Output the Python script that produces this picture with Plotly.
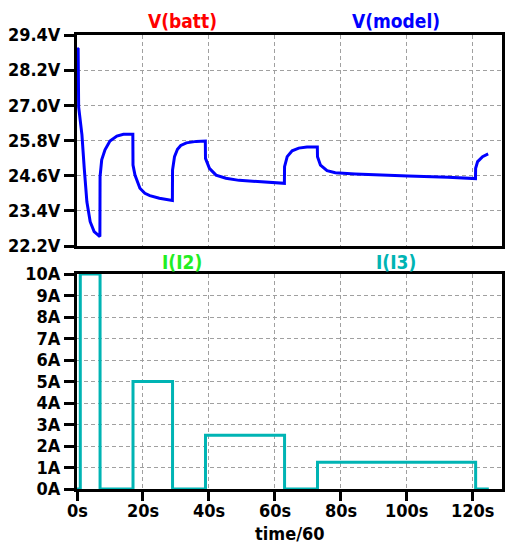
import plotly.graph_objects as go

# Voltage V(model) (overlays V(batt))
v_t = [0.0, 0.35, 0.5, 1.5, 2.2, 3.0, 4.0, 5.2, 6.95,
       7.0, 7.5, 8.5, 10.0, 12.1, 14.1, 16.95,
       17.0, 17.6, 19.1, 20.6, 22.1, 25.0, 28.95,
       29.0, 29.6, 30.5, 31.5, 33.2, 36.2, 38.95,
       39.0, 40.2, 42.2, 45.2, 49.2, 55.3, 59.8, 62.95,
       63.0, 63.8, 65.3, 67.3, 69.8, 72.95,
       73.0, 73.9, 75.9, 78.4, 84.4, 92.5, 100.5, 112.6, 120.95,
       121.0, 121.6, 123.1, 124.8]
v_model = [28.95, 28.92, 26.95, 25.99, 24.85, 23.71, 23.03, 22.69, 22.52,
           24.57, 25.14, 25.48, 25.78, 25.95, 26.01, 26.01,
           24.96, 24.62, 24.17, 24.0, 23.92, 23.83, 23.75,
           24.79, 25.25, 25.5, 25.63, 25.72, 25.77, 25.78,
           25.19, 24.85, 24.62, 24.51, 24.44, 24.4, 24.36, 24.34,
           24.91, 25.25, 25.45, 25.54, 25.58, 25.58,
           25.25, 24.96, 24.77, 24.7, 24.66, 24.62, 24.59, 24.55, 24.5,
           24.85, 25.08, 25.25, 25.34]

# Current I(I3) (overlays I(I2))
i_t = [0, 1, 1, 7, 7, 17, 17, 29, 29, 39, 39, 63, 63, 73, 73, 121, 121, 125]
i_val = [0, 0, 10, 10, 0, 0, 5, 5, 0, 0, 2.5, 2.5, 0, 0, 1.25, 1.25, 0, 0]

v_ticks = [22.2, 23.4, 24.6, 25.8, 27.0, 28.2, 29.4]
v_ticklabels = ["22.2V", "23.4V", "24.6V", "25.8V", "27.0V", "28.2V", "29.4V"]
i_ticks = list(range(0, 11))
i_ticklabels = [f"{k}A" for k in i_ticks]
t_ticks = [0, 20, 40, 60, 80, 100, 120]
t_ticklabels = [f"{k}s" for k in t_ticks]

FONT = "DejaVu Sans Condensed, DejaVu Sans, sans-serif"
BLUE = "#0000ff"
TEAL = "#00b4b4"
GRID = "#a0a0a0"

fig = go.Figure()
fig.add_trace(go.Scatter(x=v_t, y=v_model, mode="lines",
                         line=dict(color=BLUE, width=3), xaxis="x", yaxis="y",
                         showlegend=False, hoverinfo="skip"))
fig.add_trace(go.Scatter(x=i_t, y=i_val, mode="lines",
                         line=dict(color=TEAL, width=3), xaxis="x2", yaxis="y2",
                         showlegend=False, hoverinfo="skip"))

H = 543
top_px, bot_px = 35, 489
ph = bot_px - top_px
def py(y):
    return (bot_px - y) / ph

tickfont = dict(family=FONT, size=18, color="black", weight="bold")
xcommon = dict(range=[0, 129], tickvals=t_ticks, showgrid=True, gridcolor=GRID,
               griddash="4px,3px", gridwidth=1, showline=True, linecolor="black",
               linewidth=3, mirror=True, zeroline=False)

fig.update_layout(
    width=507, height=H,
    margin=dict(l=77, r=2, t=top_px, b=H - bot_px),
    plot_bgcolor="white", paper_bgcolor="white",
    xaxis=dict(domain=[0, 1], anchor="y", showticklabels=False, ticks="", **xcommon),
    xaxis2=dict(domain=[0, 1], anchor="y2", showticklabels=False, ticks="outside",
                ticklen=9, tickwidth=3, tickcolor="black", **xcommon),
    yaxis=dict(domain=[py(246), 1], range=[22.2, 29.4], tickvals=v_ticks,
               ticktext=v_ticklabels, ticks="outside", ticklen=10, tickwidth=3,
               tickcolor="black", tickfont=tickfont, showgrid=True, gridcolor=GRID,
               griddash="4px,3px", gridwidth=1, showline=True, linecolor="black",
               linewidth=3, mirror=True, zeroline=False),
    yaxis2=dict(domain=[0, py(274)], range=[0, 10], tickvals=i_ticks,
                ticktext=i_ticklabels, ticks="outside", ticklen=10, tickwidth=3,
                tickcolor="black", tickfont=tickfont, showgrid=True, gridcolor=GRID,
                griddash="4px,3px", gridwidth=1, showline=True, linecolor="black",
                linewidth=3, mirror=True, zeroline=False),
)

# x tick labels placed at the axis' own data positions
for tv, tt in zip(t_ticks, t_ticklabels):
    fig.add_annotation(text=tt, x=tv, xref="x2", y=py(511), yref="paper",
                       showarrow=False, xanchor="center", yanchor="middle",
                       font=tickfont)

def label(text, x_px, y_px, color, size=19):
    fig.add_annotation(text=text, x=(x_px - 77) / 428, y=py(y_px), xref="paper",
                       yref="paper", showarrow=False, xanchor="center",
                       yanchor="middle",
                       font=dict(family=FONT, size=size, color=color, weight="bold"))

label("V(batt)", 183, 21, "#ff0000")
label("V(model)", 398, 21, "#0000ff")
label("I(I2)", 183, 262, "#22ee22")
label("I(I3)", 398, 262, TEAL)
label("time/60", 291, 533, "black", 18)

fig.write_html("out.html")
